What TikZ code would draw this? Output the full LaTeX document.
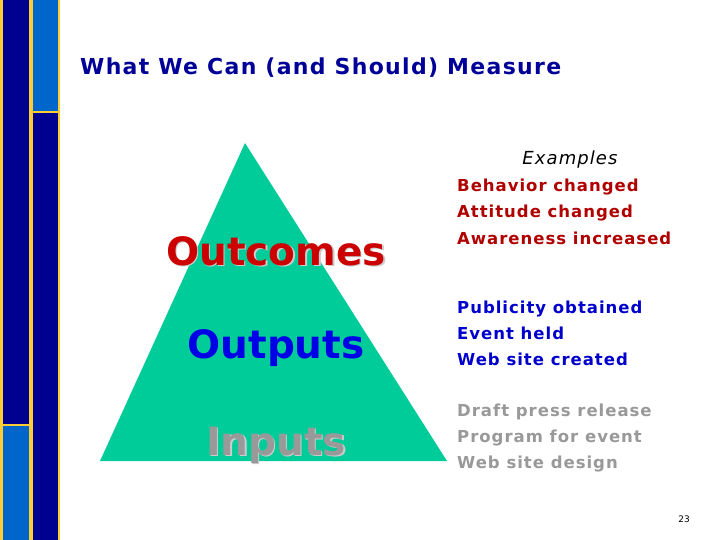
\documentclass[tikz,border=0pt]{standalone}
\usepackage{fontspec}
\setmainfont{DejaVu Sans}
\newfontfamily\widesans[LetterSpace=6]{DejaVu Sans}
\definecolor{barnavy}{RGB}{0,0,144}
\definecolor{barblue}{RGB}{0,102,204}
\definecolor{baryellow}{RGB}{255,204,51}
\definecolor{titlenavy}{RGB}{0,0,153}
\definecolor{pyrteal}{RGB}{0,204,153}
\definecolor{outred}{RGB}{204,0,0}
\definecolor{listred}{RGB}{176,0,0}
\definecolor{outblue}{RGB}{0,0,230}
\definecolor{listblue}{RGB}{0,0,204}
\definecolor{ingray}{RGB}{153,153,153}

\begin{document}
\begin{tikzpicture}[x=1pt, y=-1pt,
  bar/.style={draw=baryellow, line width=2.5pt},
  level/.style={font=\fontsize{39}{42}\selectfont\bfseries, anchor=center},
  shade/.style={level, text=#1},
  item/.style={font=\widesans\fontsize{16.5}{18}\selectfont\bfseries, anchor=base west, inner sep=0pt}]
\useasboundingbox[fill=white] (0,0) rectangle (720,540);

% Side bars
\draw[bar, fill=barnavy] (1.5,-2) rectangle (30,425);
\draw[bar, fill=barblue] (1.5,425) rectangle (30,542);
\draw[bar, fill=barblue] (31.5,-2) rectangle (59,112);
\draw[bar, fill=barnavy] (31.5,112) rectangle (59,542);

% Title
\node[anchor=base west, inner sep=0pt, text=titlenavy, font=\widesans\fontsize{22}{24}\selectfont\bfseries] (title) at (80,75) {What We Can (and Should) Measure};

% Pyramid
\fill[pyrteal] (245,143) -- (447,461) -- (100,461) -- cycle;

% Levels
\node[shade=gray!40] at (277.5,252.5) {Outcomes};
\node[shade=outred] (outcomes) at (276,251) {Outcomes};
\node[shade=outblue] (outputs) at (276,348) {Outputs};
\node[shade=gray!40] at (277.5,446.5) {Inputs};
\node[shade=ingray] (inputs) at (276,445) {Inputs};

% Examples
\node[anchor=base, font=\widesans\fontsize{18}{20}\selectfont\itshape] (examples) at (570,165) {Examples};
\foreach \y/\txt in {186/Behavior changed, 212/Attitude changed, 238/Awareness increased}
  \node[item, text=listred] at (457,\y+6) {\txt};
\foreach \y/\txt in {307/Publicity obtained, 333/Event held, 359/Web site created}
  \node[item, text=listblue] at (457,\y+6) {\txt};
\foreach \y/\txt in {410/Draft press release, 436/Program for event, 462/Web site design}
  \node[item, text=ingray] at (457,\y+6) {\txt};

% Page number
\node[font=\fontsize{9}{10}\selectfont] (page) at (684,519) {23};
\end{tikzpicture}
\end{document}
